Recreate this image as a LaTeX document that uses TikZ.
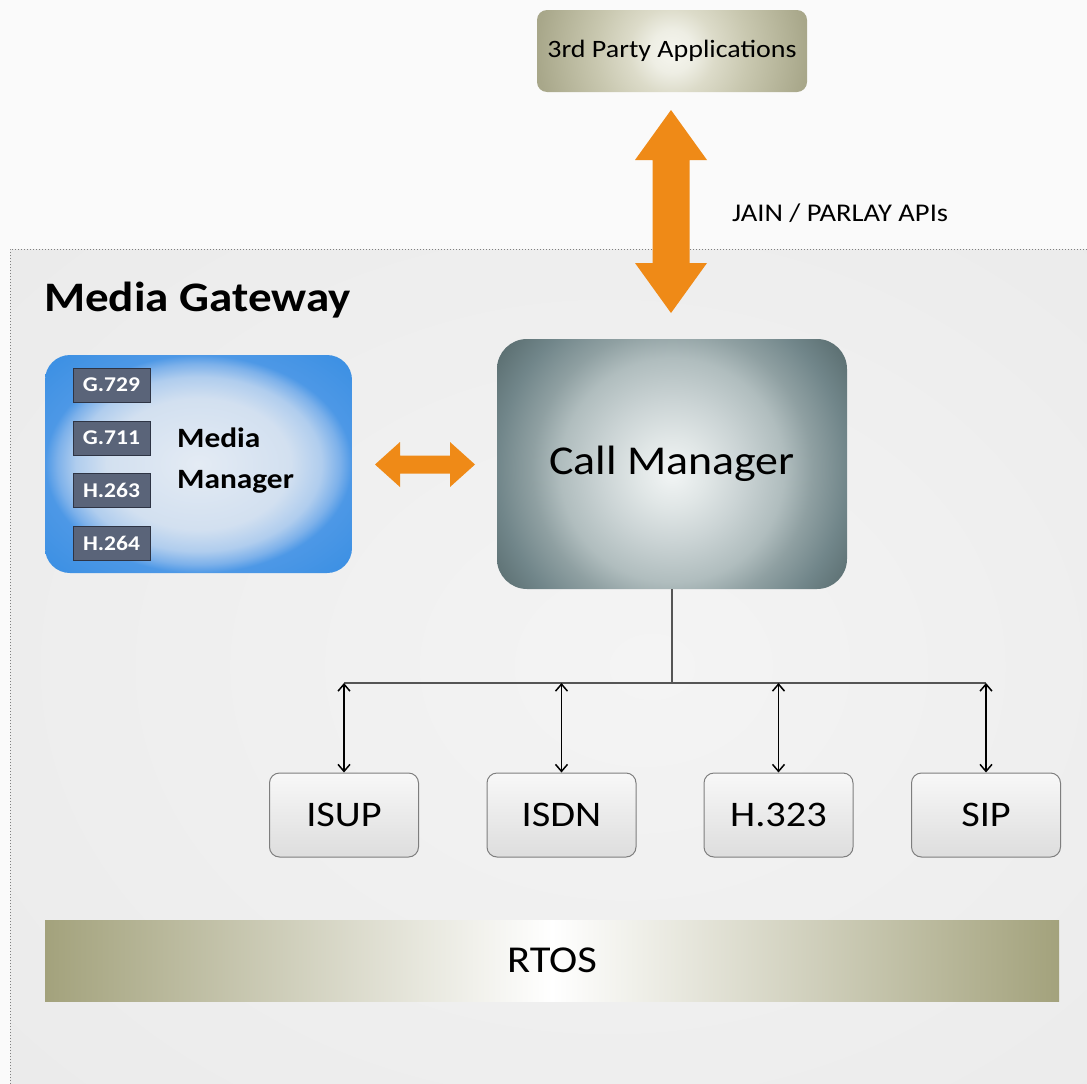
\documentclass[tikz,border=0pt]{standalone}
\usepackage{fontspec}
\setmainfont{Carlito}[FakeStretch=1.12]
\usetikzlibrary{arrows.meta}
\definecolor{orng}{HTML}{EF8A17}
\definecolor{pagebg}{HTML}{FAFAFA}
\definecolor{bgin}{HTML}{F4F4F4}
\definecolor{bgout}{HTML}{EBEBEB}
\pgfdeclareradialshading{bgshade}{\pgfpoint{5bp}{0bp}}{color(0bp)=(bgin); color(36bp)=(bgout); color(50bp)=(bgout)}
% circular shading for Call Manager (25bp = half width of the box)
\pgfdeclareradialshading{cmshade}{\pgfpoint{0bp}{-1.3bp}}{rgb(0bp)=(0.949,0.961,0.961); rgb(5bp)=(0.878,0.902,0.902); rgb(10bp)=(0.796,0.831,0.835); rgb(16bp)=(0.69,0.741,0.745); rgb(20bp)=(0.561,0.627,0.635); rgb(25bp)=(0.443,0.525,0.541); rgb(31bp)=(0.337,0.412,0.42); rgb(50bp)=(0.337,0.412,0.42)}
\pgfdeclareradialshading{mmshade}{\pgfpoint{0bp}{0bp}}{rgb(0bp)=(0.894,0.922,0.957); rgb(15bp)=(0.824,0.878,0.941); rgb(20bp)=(0.69,0.804,0.933); rgb(23bp)=(0.49,0.694,0.918); rgb(25bp)=(0.302,0.596,0.902); rgb(35bp)=(0.227,0.561,0.89); rgb(50bp)=(0.227,0.561,0.89)}
% circular shading for 3rd party box
\pgfdeclareradialshading{olshade}{\pgfpoint{0bp}{0bp}}{rgb(0bp)=(0.965,0.965,0.937); rgb(4bp)=(0.933,0.933,0.894); rgb(8bp)=(0.863,0.859,0.788); rgb(14bp)=(0.788,0.784,0.69); rgb(20bp)=(0.718,0.714,0.608); rgb(25bp)=(0.659,0.655,0.541); rgb(30bp)=(0.635,0.631,0.514); rgb(50bp)=(0.635,0.631,0.514)}
\definecolor{rtos}{HTML}{A3A27C}
\definecolor{codecF}{HTML}{5A6479}
\definecolor{codecB}{HTML}{2E3444}
\definecolor{protoB}{HTML}{7E7E7E}
\definecolor{protoT}{HTML}{F8F8F8}
\definecolor{protoBt}{HTML}{DDDDDD}
\definecolor{linegray}{HTML}{555555}
\tikzset{
  codec/.style={draw=codecB, line width=1pt, fill=codecF, minimum width=77, minimum height=34, inner sep=0pt, text=white, font=\bfseries\fontsize{21}{23}\selectfont},
  proto/.style={draw=protoB, line width=1pt, rounded corners=10pt, top color=protoT, bottom color=protoBt, minimum width=149, minimum height=84, inner sep=0pt, font=\fontsize{36}{40}\selectfont},
  link/.style={draw=black, line width=1.5pt, {Straight Barb[length=7pt,width=12pt]}-{Straight Barb[length=7pt,width=12pt]}},
}
\begin{document}
\begin{tikzpicture}[x=1pt,y=-1pt]
\useasboundingbox (0,0) rectangle (1087,1084);
\fill[pagebg] (0,0) rectangle (1087,1084);
% gateway region
\shade[shading=bgshade] (10,249) rectangle (1087,1084);
\draw[gray, line width=1pt, dotted] (1087,249) -- (10,249) -- (10,1084);
\node[font=\bfseries\fontsize{42}{48}\selectfont, anchor=west, inner sep=0pt] (mg) at (44,300) {Media Gateway};
% 3rd party
\begin{scope}
  \clip[rounded corners=10pt] (537,10) rectangle (807,92);
  \shade[shading=olshade] (537,-84) rectangle (807,186);
\end{scope}
\node[minimum width=270, minimum height=82, inner sep=0pt, font=\fontsize{25}{30}\selectfont] (tp) at (672,51) {3rd Party Applications};
\node[anchor=west, inner sep=0pt, font=\fontsize{25.5}{30}\selectfont] (api) at (732,213) {JAIN / PARLAY APIs};
% Call manager
\begin{scope}
  \clip[rounded corners=30pt] (497,339) rectangle (847,589);
  \shade[shading=cmshade] (497,289) rectangle (847,639);
\end{scope}
\node[minimum width=350, minimum height=250, inner sep=0pt, font=\fontsize{41}{46}\selectfont] (cm) at (672,464) {Call Manager};
% vertical orange arrow
\fill[orng] (671,110) -- (707,160) -- (689.5,160) -- (689.5,263) -- (707,263) -- (671,313) -- (635,263) -- (652.5,263) -- (652.5,160) -- (635,160) -- cycle;
% Media manager
\node[shading=mmshade, rounded corners=25pt, minimum width=307, minimum height=218, inner sep=0pt] (mm) at (198.5,464) {};
\node[anchor=west, align=left, inner sep=0pt, font=\bfseries\fontsize{28}{41}\selectfont] (mmt) at (177,461) {Media\\Manager};
\node[codec] (g729) at (111.5,385) {G.729};
\node[codec] (g711) at (111.5,438) {G.711};
\node[codec] (h263) at (111.5,490) {H.263};
\node[codec] (h264) at (111.5,543) {H.264};
% horizontal orange arrow
\fill[orng] (375,464.5) -- (400,442) -- (400,455.5) -- (450,455.5) -- (450,442) -- (475,464.5) -- (450,487) -- (450,473.5) -- (400,473.5) -- (400,487) -- cycle;
% protocols
\node[proto] (isup) at (344,815) {ISUP};
\node[proto] (isdn) at (561.5,815) {ISDN};
\node[proto] (h323) at (778.5,815) {H.323};
\node[proto] (sip) at (986,815) {SIP};
\coordinate (hub) at (672,683);
\draw[linegray, line width=1.3pt] (cm.south) -- (hub);
\draw[linegray, line width=1.3pt] (isup.north |- hub) -- (sip.north |- hub);
\draw[link] (isup.north |- hub) -- (isup.north);
\draw[link] (isdn.north |- hub) -- (isdn.north);
\draw[link] (h323.north |- hub) -- (h323.north);
\draw[link] (sip.north |- hub) -- (sip.north);
% RTOS
\node[left color=rtos, right color=rtos, middle color=white, minimum width=1014, minimum height=81, inner sep=0pt, font=\fontsize{38}{44}\selectfont] (rt) at (552,960.5) {RTOS};
\end{tikzpicture}
\end{document}
